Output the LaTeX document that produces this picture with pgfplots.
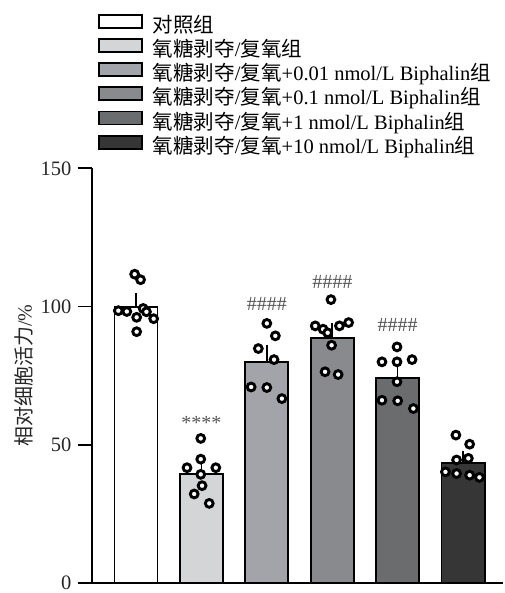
\documentclass[border=0pt]{standalone}
\usepackage{fontspec}
\setmainfont{Liberation Serif}
\newfontfamily\cjk{Noto Sans CJK SC}
\usepackage{pgfplots}
\pgfplotsset{compat=1.18}
\definecolor{c1}{RGB}{255,255,255}
\definecolor{c2}{RGB}{212,213,215}
\definecolor{c3}{RGB}{163,164,169}
\definecolor{c4}{RGB}{137,138,142}
\definecolor{c5}{RGB}{107,108,110}
\definecolor{c6}{RGB}{54,54,54}
\definecolor{anno}{RGB}{85,85,85}
\newcommand{\zh}[1]{{\cjk #1}}
\pgfplotsset{
  mybar/.style={ybar, bar width=43pt, bar shift=0pt, draw=black, line width=1.8pt, fill=#1,
    legend image code/.code={\draw[##1,/tikz/.cd,line width=1.8pt,draw=black] (0pt,-0.5pt) rectangle (43pt,12.5pt);},
    error bars/.cd, y dir=plus, y explicit,
    error bar style={line width=1.6pt,black},
    error mark options={line width=1.6pt, mark size=6.5pt, black}},
  dots/.style={only marks, mark=*, mark size=3.9pt, line width=2.9pt,
    mark options={fill=white, draw=black, line width=2.9pt}, forget plot}
}
\begin{document}
\begin{tikzpicture}
\useasboundingbox (0pt,0pt) rectangle (504pt,-593pt);
\begin{axis}[
  at={(91.7pt,-583pt)}, anchor=south west,
  width=411.3pt, height=414.7pt, scale only axis,
  xmin=-0.677, xmax=5.61, ymin=0, ymax=150,
  axis x line=bottom, axis y line=left,
  axis line style={-, line width=1.8pt, black},
  xtick=\empty,
  ytick={0,50,100,150},
  tick align=outside, major tick length=14pt,
  ytick style={line width=1.8pt, black},
  /pgf/number format/assume math mode=true,
  yticklabel style={font=\fontsize{20.5}{24}\selectfont, text=black!85, inner sep=0pt, xshift=-6pt},
  ylabel={\zh{相对细胞活力}/\%},
  ylabel style={at={(axis description cs:-0.1646,0.5)}, anchor=center, font=\fontsize{20}{24}\selectfont, text=black!85},
  clip=false,
  legend cell align=left,
  legend style={at={(axis description cs:0.0153,1.3728)}, anchor=north west, draw=none, fill=none,
    font=\fontsize{20.5}{24}\selectfont, inner sep=0pt, row sep=0.8pt, column sep=10pt,
    nodes={inner sep=0pt, text height=15pt, text depth=5pt}},
]
\addplot[mybar=c1] coordinates {(0,99.8) +- (0,2.8)};
\addlegendentry{\zh{对照组}}
\addplot[mybar=c2] coordinates {(1,39.3) +- (0,2.6)};
\addlegendentry{\zh{氧糖剥夺}/\zh{复氧组}}
\addplot[mybar=c3] coordinates {(2,80.0) +- (0,3.8)};
\addlegendentry{\zh{氧糖剥夺}/\zh{复氧}+0.01 nmol/L Biphalin\zh{组}}
\addplot[mybar=c4] coordinates {(3,88.7) +- (0,2.9)};
\addlegendentry{\zh{氧糖剥夺}/\zh{复氧}+0.1 nmol/L Biphalin\zh{组}}
\addplot[mybar=c5] coordinates {(4,74.1) +- (0,3.0)};
\addlegendentry{\zh{氧糖剥夺}/\zh{复氧}+1 nmol/L Biphalin\zh{组}}
\addplot[mybar=c6] coordinates {(5,43.4) +- (0,2.0)};
\addlegendentry{\zh{氧糖剥夺}/\zh{复氧}+10 nmol/L Biphalin\zh{组}}

\addplot[dots] coordinates {(-0.02,111.7) (0.07,109.7) (-0.27,98.5) (-0.14,98.2) (0.01,96.1) (0.11,99.3) (0.16,98.1) (0.27,95.6) (0.01,90.9)};
\addplot[dots] coordinates {(0.99,52.3) (0.99,44.8) (0.78,41.7) (1.22,41.7) (0.99,39.3) (1.01,35.2) (0.89,32.2) (1.12,28.8)};
\addplot[dots] coordinates {(2.00,93.9) (2.13,89.4) (1.87,84.8) (2.11,80.8) (1.76,70.9) (2.00,70.7) (2.23,66.7)};
\addplot[dots] coordinates {(2.98,102.5) (2.74,93.0) (2.86,91.8) (2.93,90.5) (3.11,93.0) (3.25,94.2) (2.99,86.0) (2.89,76.4) (3.09,75.4)};
\addplot[dots] coordinates {(3.99,85.4) (3.76,80.0) (3.99,80.0) (4.22,80.8) (3.99,72.8) (3.76,66.1) (4.00,65.9) (4.24,63.1)};
\addplot[dots] coordinates {(4.89,53.5) (5.10,50.2) (4.90,44.5) (5.08,45.1) (4.73,40.2) (4.90,39.6) (5.10,39.0) (5.25,38.2)};

\node[anchor=base, font=\fontsize{20}{24}\selectfont, text=anno] at (axis cs:1,55.6) {****};
\node[anchor=base, font=\fontsize{20}{24}\selectfont, text=anno] at (axis cs:2,98.6) {\#\#\#\#};
\node[anchor=base, font=\fontsize{20}{24}\selectfont, text=anno] at (axis cs:3,106.6) {\#\#\#\#};
\node[anchor=base, font=\fontsize{20}{24}\selectfont, text=anno] at (axis cs:4,91.1) {\#\#\#\#};
\end{axis}
\end{tikzpicture}
\end{document}
